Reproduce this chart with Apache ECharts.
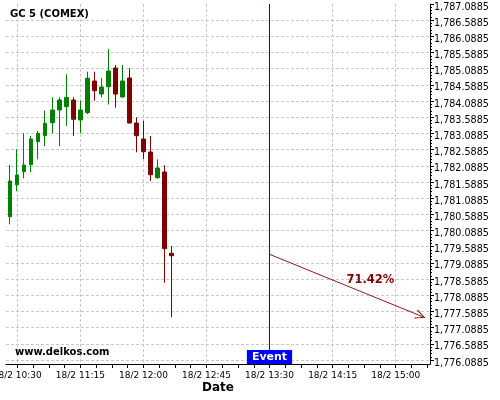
<!DOCTYPE html>
<html><head><meta charset="utf-8">
<script src="https://cdn.jsdelivr.net/npm/echarts@6/dist/echarts.min.js"></script>
<style>html,body{margin:0;padding:0;background:#fff}#c{width:500px;height:400px}</style>
</head><body><div id="c"></div>
<script>
// ---- data ----
const times = ['10:25','10:30','10:35','10:40','10:45','10:50','10:55','11:00','11:05','11:10','11:15','11:20',
               '11:25','11:30','11:35','11:40','11:45','11:50','11:55','12:00','12:05','12:10','12:15','12:20'];
const opens  = [1780.516,1781.505,1781.906,1782.123,1782.833,1783.019,1783.420,1783.813,1783.915,1784.122,1783.504,1783.730,
                1784.709,1784.307,1784.533,1785.111,1784.215,1784.802,1783.411,1782.917,1782.515,1781.721,1781.897,1779.385];
const closes = [1781.619,1781.804,1782.113,1782.917,1783.093,1783.402,1783.813,1784.122,1784.205,1783.526,1783.813,1784.793,
                1784.409,1784.524,1785.018,1784.307,1784.709,1783.411,1783.019,1782.524,1781.813,1782.021,1779.527,1779.310];
const lows   = [1780.281,1781.301,1781.702,1781.888,1782.290,1782.700,1783.093,1782.700,1783.319,1783.010,1783.093,1783.689,
                1784.100,1784.205,1783.983,1783.884,1784.199,1783.396,1782.506,1782.299,1781.619,1781.690,1778.476,1777.407];
const highs  = [1782.113,1782.598,1783.093,1783.010,1783.164,1783.791,1784.205,1784.205,1784.916,1784.205,1784.100,1784.996,
                1784.996,1784.802,1785.692,1785.204,1785.204,1785.101,1783.587,1783.482,1783.010,1782.290,1782.107,1779.610];

const yTickLabels = ['1,776.0885','1,776.5885','1,777.0885','1,777.5885','1,778.0885','1,778.5885','1,779.0885','1,779.5885',
                     '1,780.0885','1,780.5885','1,781.0885','1,781.5885','1,782.0885','1,782.5885','1,783.0885','1,783.5885',
                     '1,784.0885','1,784.5885','1,785.0885','1,785.5885','1,786.0885','1,786.5885','1,787.0885'];
const xTickLabels = ['18/2 10:30','18/2 11:15','18/2 12:00','18/2 12:45','18/2 13:30','18/2 14:15','18/2 15:00'];

const titleText = 'GC 5 (COMEX)';
const watermarkText = 'www.delkos.com';
const eventText = 'Event';
const eventTime = '13:30';
const eventPrice = 1779.354;
const targetTime = '15:21';
const targetPrice = 1777.394;
const probabilityText = '71.42%';
const probabilityTime = '14:42';
const probabilityPrice = 1778.56;
const eventLabelPrice = 1776.18;

// ---- helpers ----
function toMin(t){ const p = t.split(':'); return (+p[0])*60 + (+p[1]); }
const candleData = times.map((t,i)=>[toMin(t), opens[i], closes[i], lows[i], highs[i]]);

const yLo = 1775.9635, yHi = 1787.0885;
const xLo = 622, xHi = 924.5;
const font = 'DejaVu Sans';
const dash = {color:'#c8c8c8', width:1, type:[3,2]};
const gridBase = {outerBoundsMode:'none', containLabel:false};
function hiddenAxis(gridIndex){
  return {gridIndex:gridIndex, type:'value', min:0, max:1, show:false,
          axisLine:{show:false, onZero:false}, axisTick:{show:false}, axisLabel:{show:false},
          splitLine:{show:false}, minorTick:{show:false}, minorSplitLine:{show:false}};
}

const chart = echarts.init(document.getElementById('c'), null, {renderer:'canvas'});
chart.setOption({
  animation:false,
  backgroundColor:'#ffffff',
  textStyle:{fontFamily:font},
  title:[
    {text:titleText, left:10, top:9, padding:0, textStyle:{fontFamily:font, fontSize:10, fontWeight:'bold', color:'#000'}},
    {text:watermarkText, left:15, top:347, padding:0, textStyle:{fontFamily:font, fontSize:10, fontWeight:'bold', color:'#000'}}
  ],
  grid:[
    Object.assign({left:6, width:424, top:4, height:360}, gridBase),      // data
    Object.assign({left:17.3, width:378.4, top:4, height:360}, gridBase), // x labels + grid lines
    Object.assign({left:6, width:424, top:4, height:356}, gridBase),      // y labels + grid lines
    Object.assign({left:17.3, width:409.9, top:4, height:360}, gridBase)  // x ticks
  ],
  xAxis:[
    {gridIndex:0, type:'value', min:xLo, max:xHi, axisLine:{show:true, onZero:false, lineStyle:{color:'#000', width:1}},
     axisTick:{show:false}, axisLabel:{show:false}, splitLine:{show:false},
     name:'Date', nameLocation:'middle', nameGap:18,
     nameTextStyle:{fontFamily:font, fontSize:12, fontWeight:'bold', color:'#000', verticalAlign:'top'}},
    {gridIndex:1, type:'value', min:0, max:6, interval:1, axisLine:{show:false, onZero:false}, axisTick:{show:false},
     axisLabel:{show:true, margin:7, fontFamily:font, fontSize:9, color:'#000', formatter:(v)=>xTickLabels[v] || '',
                showMinLabel:true, showMaxLabel:true, hideOverlap:false},
     splitLine:{show:true, lineStyle:dash}},
    hiddenAxis(2),
    {gridIndex:3, type:'value', min:0, max:26, interval:1, axisLine:{show:false, onZero:false},
     axisTick:{show:true, length:4, lineStyle:{color:'#000'}}, axisLabel:{show:false}, splitLine:{show:false}}
  ],
  yAxis:[
    {gridIndex:0, type:'value', position:'right', min:yLo, max:yHi,
     axisLine:{show:true, onZero:false, lineStyle:{color:'#000', width:1}},
     axisTick:{show:false}, axisLabel:{show:false}, splitLine:{show:false}},
    hiddenAxis(1),
    {gridIndex:2, type:'value', position:'right', min:0, max:22, interval:1, axisLine:{show:false, onZero:false},
     axisTick:{show:true, length:4, lineStyle:{color:'#000'}},
     minorTick:{show:true, splitNumber:5, length:2, lineStyle:{color:'#000'}},
     axisLabel:{show:true, margin:4, fontFamily:font, fontSize:9.6, color:'#000',
                formatter:(v)=>yTickLabels[v] ? '{a|' + yTickLabels[v] + '}' : '',
                rich:{a:{fontFamily:font, fontSize:9.6, color:'#000', padding:[6,0,0,0]}}},
     splitLine:{show:true, showMaxLine:false, lineStyle:dash}},
    hiddenAxis(3)
  ],
  series:[
    {type:'candlestick', xAxisIndex:0, yAxisIndex:0, data:candleData, encode:{x:0, y:[1,2,3,4]},
     barWidth:4,
     itemStyle:{color:'#008000', color0:'#800000', borderColor:'#008000', borderColor0:'#800000', borderWidth:1}},
    {type:'line', xAxisIndex:0, yAxisIndex:0, data:[], silent:true,
     markLine:{silent:true, animation:false, label:{show:false},
       data:[
         [{coord:[toMin(eventTime), yLo], symbol:'none'},{coord:[toMin(eventTime), yHi], symbol:'none'}],
       ],
       symbol:'none',
       lineStyle:{color:'#0000ff', width:1, type:'solid'}
     }},
    {type:'line', xAxisIndex:0, yAxisIndex:0, data:[], silent:true,
     markLine:{silent:true, animation:false, label:{show:false},
       symbol:['none','path://M5,0 M5,10 L10,20 L8.8,20 L5,12.2 L1.2,20 L0,20 Z'],
       symbolSize:[10,20],
       data:[[{coord:[toMin(eventTime), eventPrice]},{coord:[toMin(targetTime), targetPrice]}]],
       lineStyle:{color:'#8b1a1a', width:1, type:'solid'}
     },
     markPoint:{silent:true, animation:false, symbol:'circle', symbolSize:0,
       data:[
         {coord:[toMin(probabilityTime), probabilityPrice], label:{show:true, position:'inside', formatter:probabilityText,
            fontFamily:font, fontSize:11.5, fontWeight:'bold', color:'#800000'}},
         {coord:[toMin(eventTime), eventLabelPrice], label:{show:true, position:'inside', formatter:eventText,
            fontFamily:font, fontSize:11, fontWeight:'bold', color:'#ffffff', backgroundColor:'#0000ff', padding:[2,5,1,5]}}
       ]
     }}
  ]
});
</script></body></html>
